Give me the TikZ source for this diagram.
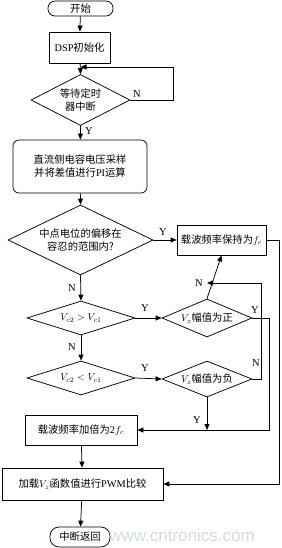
\documentclass[tikz,border=0pt]{standalone}
\usepackage{fontspec}
\setmainfont{Liberation Serif}
\newfontfamily\cjk{Noto Sans CJK SC}
\newfontfamily\wmfont{Liberation Sans}
\usetikzlibrary{arrows.meta,shapes.geometric}
\begin{document}
\begin{tikzpicture}[x=1pt,y=-1pt,
  line width=0.75pt,
  every node/.style={font=\fontsize{10.3}{13}\selectfont\cjk, inner sep=0pt},
  arr/.style={-{Triangle[length=6pt,width=5pt]}},
  term/.style={draw, rounded corners=7pt},
  box/.style={draw, rectangle},
  rbox/.style={draw, rounded corners=6pt},
  dia/.style={draw, diamond, inner sep=0pt},
  lab/.style={font=\fontsize{10.5}{12}\selectfont\rmfamily},
  txt/.style={align=center}]
\useasboundingbox (0,0) rectangle (281,548);
% nodes
\node[term, minimum width=65pt, minimum height=15pt] (start) at (80.5,8.5) {开始};
\node[box, minimum width=61pt, minimum height=31pt] (dsp) at (79.5,47.5) {{\rmfamily DSP}初始化};
\node[dia, minimum width=99pt, minimum height=51pt] (wait) at (80.5,100) {};
\node[txt] (waitt) at (80.5,100) {等待定时\\器中断};
\node[rbox, minimum width=134pt, minimum height=53pt] (dc) at (80,166.5) {};
\node[txt] (dct) at (80,166.5) {直流侧电容电压采样\\并将差值进行{\rmfamily PI}运算};
\node[dia, minimum width=145pt, minimum height=70pt] (mid) at (80.5,240) {};
\node[txt] (midt) at (80.5,240) {中点电位的偏移在\\容忍的范围内?};
\node[box, minimum width=89pt, minimum height=30pt] (fc) at (221.5,240) {载波频率保持为$f_c$};
\node[dia, minimum width=108pt, minimum height=34pt] (d2) at (81,318) {};
\node (d2t) at (81,318) {$V_{c2}>V_{c1}$};
\node[dia, minimum width=90pt, minimum height=38pt] (pos) at (207,318) {};
\node (post) at (207,318) {$V_z$幅值为正};
\node[dia, minimum width=108pt, minimum height=34pt] (d3) at (81,378) {};
\node (d3t) at (81,378) {$V_{c2}<V_{c1}$};
\node[dia, minimum width=90pt, minimum height=36pt] (neg) at (207,379) {};
\node (negt) at (207,379) {$V_z$幅值为负};
\node[box, minimum width=112pt, minimum height=30pt] (f2) at (81,430) {载波频率加倍为{\rmfamily 2}$f_c$};
\node[box, minimum width=161pt, minimum height=32pt] (pwm) at (82.5,484) {加载$V_z$函数值进行{\rmfamily PWM}比较};
\node[term, minimum width=60pt, minimum height=20pt, rounded corners=9pt] (end) at (80,537) {中断返回};
% junctions
\coordinate (j1) at (80.5,67);
\coordinate (j2) at (207,283);
\coordinate (j3) at (207,430);
% connectors
\draw[arr] (start) -- (dsp);
\draw[arr] (dsp) -- (wait.north);
\draw[arr] (wait.east) -- (173,100) -- (173,67) -- (j1);
\draw[arr] (wait.south) -- (dc);
\draw[arr] (dc) -- (mid.north);
\draw[arr] (mid.east) -- (fc.west);
\draw[arr] (mid.south) -- (d2.north);
\draw[arr] (d2.east) -- (pos.west);
\draw[arr] (d2.south) -- (d3.north);
\draw[arr] (d3.east) -- (neg.west);
\draw[arr] (pos.north) -- (fc.south);
\draw[arr] (neg.east) -- (261,379) -- (261,283) -- (j2);
\draw[arr] (pos.east) -- (269,318) -- (269,430) -- (f2.east);
\draw[arr] (neg.south) -- (j3);
\draw[arr] (fc.east) -- (279,240) -- (279,484) -- (pwm.east);
\draw[arr] (f2) -- (pwm);
\draw[arr] (pwm) -- (end);
% labels
\node[lab] (l1) at (137,94) {N};
\node[lab] (l2) at (89,131) {Y};
\node[lab] (l3) at (163,232) {Y};
\node[lab] (l4) at (72,288) {N};
\node[lab] (l5) at (145,308) {Y};
\node[lab] (l6) at (72,347) {N};
\node[lab] (l7) at (145,368) {Y};
\node[lab] (l8) at (199,283) {N};
\node[lab] (l9) at (255,310) {Y};
\node[lab] (l10) at (256,363) {N};
\node[lab] (l11) at (197,420) {Y};
% watermark
\node[font=\fontsize{17}{17}\selectfont\wmfont, text=green!20!gray!30] (wm) at (182,535) {www.cntronics.com};
\end{tikzpicture}
\end{document}
